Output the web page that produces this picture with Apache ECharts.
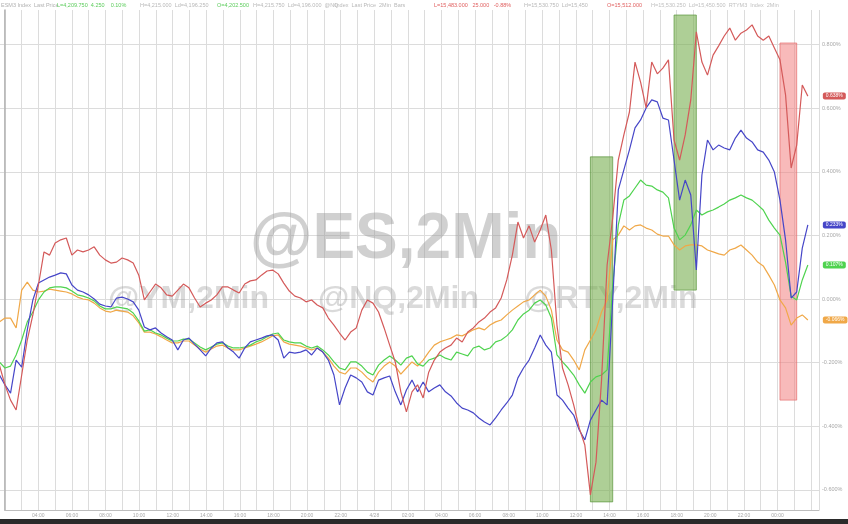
<!DOCTYPE html>
<html><head><meta charset="utf-8">
<script src="https://cdn.jsdelivr.net/npm/echarts@6/dist/echarts.min.js"></script>
<style>html,body{margin:0;padding:0;background:#fff}#c{width:848px;height:524px}</style>
</head><body><div id="c"></div>
<script>
// ---- data (percent change, 20-minute samples) ----
const redVals = [-0.208,-0.270,-0.318,-0.349,-0.239,-0.129,-0.050,0.044,0.148,0.138,
0.176,0.186,0.192,0.138,0.154,0.148,0.154,0.164,0.138,0.123,
0.113,0.116,0.129,0.123,0.113,0.075,-0.003,0.022,0.047,0.035,
0.013,0.009,0.028,0.047,0.035,0.003,-0.025,-0.013,-0.003,0.013,
0.038,0.038,0.028,0.019,0.047,0.057,0.060,0.075,0.088,0.091,
0.079,0.050,0.025,0.009,0.003,-0.009,-0.003,-0.019,-0.028,-0.060,
-0.082,-0.107,-0.129,-0.104,-0.091,-0.035,-0.003,-0.013,-0.041,-0.091,
-0.145,-0.198,-0.292,-0.355,-0.292,-0.270,-0.311,-0.230,-0.192,-0.167,
-0.154,-0.145,-0.123,-0.135,-0.104,-0.091,-0.072,-0.060,-0.041,-0.028,
0.003,0.060,0.138,0.242,0.192,0.230,0.179,0.217,0.264,0.154,
-0.082,-0.217,-0.270,-0.333,-0.406,-0.459,-0.616,-0.513,-0.255,0.107,
0.255,0.437,0.516,0.588,0.745,0.682,0.601,0.745,0.708,0.726,
0.752,0.500,0.437,0.516,0.626,0.840,0.745,0.704,0.767,0.796,
0.827,0.852,0.814,0.836,0.846,0.862,0.827,0.814,0.827,0.789,
0.752,0.642,0.412,0.484,0.673,0.638];
const blueVals = [-0.239,-0.270,-0.296,-0.192,-0.214,-0.097,-0.003,0.050,0.060,0.069,
0.075,0.082,0.079,0.044,0.028,0.022,0.013,0.000,-0.016,-0.022,
-0.025,0.003,0.006,0.000,-0.009,-0.035,-0.088,-0.097,-0.091,-0.107,
-0.119,-0.129,-0.160,-0.129,-0.123,-0.142,-0.160,-0.179,-0.154,-0.138,
-0.135,-0.154,-0.167,-0.186,-0.154,-0.135,-0.129,-0.123,-0.116,-0.113,
-0.129,-0.186,-0.167,-0.170,-0.167,-0.160,-0.176,-0.154,-0.167,-0.192,
-0.239,-0.333,-0.280,-0.239,-0.248,-0.261,-0.292,-0.302,-0.255,-0.248,
-0.242,-0.292,-0.333,-0.286,-0.255,-0.292,-0.261,-0.292,-0.280,-0.270,
-0.292,-0.305,-0.327,-0.343,-0.349,-0.358,-0.374,-0.387,-0.396,-0.374,
-0.349,-0.327,-0.302,-0.248,-0.217,-0.192,-0.154,-0.113,-0.145,-0.167,
-0.302,-0.318,-0.343,-0.365,-0.412,-0.443,-0.381,-0.349,-0.318,-0.333,
-0.003,0.343,0.406,0.469,0.538,0.563,0.601,0.626,0.620,0.569,
0.563,0.437,0.311,0.374,0.327,0.091,0.390,0.500,0.469,0.484,
0.475,0.469,0.506,0.531,0.506,0.494,0.469,0.462,0.437,0.399,
0.311,0.186,0.003,0.022,0.160,0.233];
const greenVals = [-0.198,-0.217,-0.211,-0.176,-0.129,-0.072,-0.041,-0.003,0.022,0.035,
0.038,0.038,0.035,0.025,0.013,0.009,0.003,-0.006,-0.022,-0.031,
-0.031,-0.025,-0.028,-0.031,-0.044,-0.069,-0.101,-0.097,-0.107,-0.113,
-0.123,-0.132,-0.132,-0.126,-0.126,-0.138,-0.151,-0.160,-0.151,-0.142,
-0.138,-0.148,-0.154,-0.154,-0.151,-0.145,-0.135,-0.129,-0.119,-0.110,
-0.107,-0.129,-0.135,-0.138,-0.138,-0.148,-0.154,-0.148,-0.160,-0.176,
-0.198,-0.217,-0.223,-0.198,-0.198,-0.211,-0.230,-0.239,-0.208,-0.192,
-0.179,-0.192,-0.208,-0.186,-0.179,-0.204,-0.211,-0.192,-0.186,-0.176,
-0.186,-0.192,-0.167,-0.173,-0.179,-0.154,-0.148,-0.160,-0.154,-0.135,
-0.129,-0.116,-0.097,-0.066,-0.047,-0.035,-0.013,-0.003,-0.019,-0.060,
-0.176,-0.198,-0.217,-0.239,-0.270,-0.296,-0.261,-0.245,-0.239,-0.223,
0.044,0.233,0.311,0.324,0.349,0.374,0.358,0.355,0.343,0.336,
0.318,0.223,0.186,0.201,0.233,0.280,0.264,0.274,0.280,0.289,
0.299,0.311,0.318,0.327,0.318,0.311,0.296,0.280,0.248,0.223,
0.201,0.116,0.009,-0.003,0.060,0.107];
const orangeVals = [-0.072,-0.060,-0.060,-0.091,0.028,0.053,0.028,0.022,0.025,0.031,
0.028,0.025,0.022,0.016,0.006,0.000,-0.003,-0.013,-0.028,-0.038,
-0.041,-0.035,-0.038,-0.041,-0.053,-0.075,-0.104,-0.104,-0.110,-0.119,
-0.129,-0.138,-0.138,-0.132,-0.132,-0.145,-0.157,-0.167,-0.157,-0.148,
-0.145,-0.154,-0.160,-0.160,-0.154,-0.148,-0.142,-0.135,-0.126,-0.116,
-0.113,-0.135,-0.142,-0.145,-0.148,-0.154,-0.160,-0.154,-0.167,-0.186,
-0.211,-0.230,-0.236,-0.217,-0.217,-0.230,-0.248,-0.261,-0.230,-0.211,
-0.198,-0.211,-0.236,-0.217,-0.198,-0.211,-0.192,-0.167,-0.145,-0.135,
-0.129,-0.123,-0.113,-0.116,-0.107,-0.097,-0.091,-0.097,-0.082,-0.072,
-0.066,-0.050,-0.035,-0.022,-0.009,-0.003,0.013,0.028,0.009,-0.035,
-0.129,-0.160,-0.167,-0.192,-0.223,-0.160,-0.129,-0.097,-0.041,-0.003,
0.186,0.201,0.230,0.217,0.230,0.233,0.223,0.217,0.204,0.198,
0.198,0.170,0.154,0.167,0.170,0.170,0.167,0.154,0.148,0.142,
0.138,0.154,0.160,0.170,0.154,0.138,0.116,0.104,0.075,0.044,
-0.003,-0.028,-0.082,-0.060,-0.050,-0.066];

// x-axis tick labels (every 2 hours)
const tickLabels = ['04:00','06:00','08:00','10:00','12:00','14:00','16:00','18:00','20:00','22:00','4/28',
'02:00','04:00','06:00','08:00','10:00','12:00','14:00','16:00','18:00','20:00','22:00','00:00'];

// highlight boxes: [startIndex, endIndex, top %, bottom %]
const greenBox1 = [106, 110, 0.447, -0.638];
const greenBox2 = [121, 125, 0.893, 0.028];
const redBox = [140, 143, 0.805, -0.318];

// header texts
const headerParts = [
  {x:1,   t:'ESM3 Index  Last Price', c:'#b0b0b0'},
  {x:57,  t:'L=4,209.750  4.250    0.10%', c:'#5ccc5c'},
  {x:140, t:'H=4,215.000  Ld=4,196.250', c:'#b8b8b8'},
  {x:217, t:'O=4,202.500', c:'#5ccc5c'},
  {x:253, t:'H=4,215.750  Ld=4,196.000  @NQ', c:'#b8b8b8'},
  {x:335, t:'Index  Last Price  2Min  Bars', c:'#b8b8b8'},
  {x:434, t:'L=15,483.000   25.000   -0.88%', c:'#e06060'},
  {x:524, t:'H=15,530.750  Ld=15,450', c:'#b8b8b8'},
  {x:607, t:'O=15,512.000', c:'#e06060'},
  {x:651, t:'H=15,530.250  Ld=15,450.500  RTYM3  Index  2Min', c:'#c0c0c0'}
];

// categories: 20-minute steps
const categories = [];
for (let i = 0; i < 148; i++) {
  const m = (100 + 20 * i) % 1440;
  categories.push(String(Math.floor(m / 60)).padStart(2, '0') + ':' + String(m % 60).padStart(2, '0'));
}

const fmtPct = v => (Math.abs(v) < 1e-9 ? 0 : v).toFixed(3) + '%';

const colors = {red:'#d45a5a', blue:'#4646c8', green:'#4fd34f', orange:'#f0a848'};

function lineSeries(name, data, color, z) {
  return {
    name, type:'line', xAxisIndex:0, yAxisIndex:0, data, z,
    showSymbol:false, symbol:'none', silent:true,
    lineStyle:{color, width:1.2}, itemStyle:{color},
    endLabel:{show:true, formatter:p => fmtPct(p.value), offset:[7,0],
      backgroundColor:color, color:'#fff', fontSize:5, padding:[1,3], borderRadius:2,
      fontFamily:'Liberation Sans'}
  };
}

const boxItem = (b, fill, border) => [
  {xAxis:b[0], yAxis:b[2], itemStyle:{color:fill, borderColor:border, borderWidth:1}},
  {xAxis:b[1], yAxis:b[3]}
];

const series = [
  lineSeries('RTY', orangeVals, colors.orange, 3),
  lineSeries('YM', greenVals, colors.green, 4),
  lineSeries('ES', blueVals, colors.blue, 5),
  lineSeries('NQ', redVals, colors.red, 6),
];
series[0].markArea = {silent:true, z:1, data:[
  boxItem(greenBox1, 'rgba(120,175,80,0.6)', 'rgba(90,150,60,0.7)'),
  boxItem(greenBox2, 'rgba(120,175,80,0.6)', 'rgba(90,150,60,0.7)'),
  boxItem(redBox, 'rgba(242,130,130,0.55)', 'rgba(230,110,110,0.7)')
]};

const graphic = [
  {type:'rect', left:0, top:519, shape:{width:848, height:5}, style:{fill:'#2a2a2a'}, z:100},
  {type:'text', left:250, top:208, z:1, style:{text:'@ES,2Min', fill:'rgba(150,150,150,0.45)', font:'bold 64px "Liberation Sans"'}},
  {type:'text', left:108, top:283, z:1, style:{text:'@YM,2Min', fill:'rgba(150,150,150,0.35)', font:'bold 32px "Liberation Sans"'}},
  {type:'text', left:318, top:283, z:1, style:{text:'@NQ,2Min', fill:'rgba(150,150,150,0.35)', font:'bold 32px "Liberation Sans"'}},
  {type:'text', left:524, top:283, z:1, style:{text:'@RTY,2Min', fill:'rgba(150,150,150,0.35)', font:'bold 32px "Liberation Sans"'}}
];
headerParts.forEach(h => graphic.push({type:'text', left:h.x, top:2, z:60,
  style:{text:h.t, fill:h.c, font:'5.5px "Liberation Sans"'}}));

const chart = echarts.init(document.getElementById('c'), null, {renderer:'canvas'});
chart.setOption({
  animation:false,
  backgroundColor:'#ffffff',
  grid:[
    {left:-0.6, right:29, top:-19, height:572.4, outerBoundsMode:'none', containLabel:false},
    {left:4.7, right:29, top:10, bottom:14, outerBoundsMode:'none', containLabel:false}
  ],
  xAxis:[
    {type:'category', gridIndex:0, data:categories, boundaryGap:false, show:false},
    {type:'value', gridIndex:1, min:0, max:48.47, interval:1,
      axisLine:{show:true, lineStyle:{color:'#bdbdbd', width:1}},
      axisTick:{show:false},
      splitLine:{show:true, lineStyle:{color:'#dcdcdc', width:1}},
      axisLabel:{showMinLabel:false, showMaxLabel:false, margin:3, fontSize:5, color:'#a8a8a8',
        fontFamily:'Liberation Sans',
        formatter:v => (v % 2 === 0 && v >= 2 && v <= 46) ? tickLabels[v / 2 - 1] : ''}}
  ],
  yAxis:[
    {type:'value', gridIndex:0, position:'right', min:-0.8, max:1.0, interval:0.2,
      axisLine:{show:false}, axisTick:{show:false},
      splitLine:{show:true, lineStyle:{color:'#dcdcdc', width:1}},
      axisLabel:{margin:3, fontSize:5.5, color:'#a8a8a8', fontFamily:'Liberation Sans', formatter:fmtPct}},
    {type:'value', gridIndex:1, position:'right', min:0, max:1,
      axisLine:{show:true, lineStyle:{color:'#b0b0b0', width:1.5}},
      axisTick:{show:false}, axisLabel:{show:false}, splitLine:{show:false}}
  ],
  series,
  graphic
});
</script></body></html>
